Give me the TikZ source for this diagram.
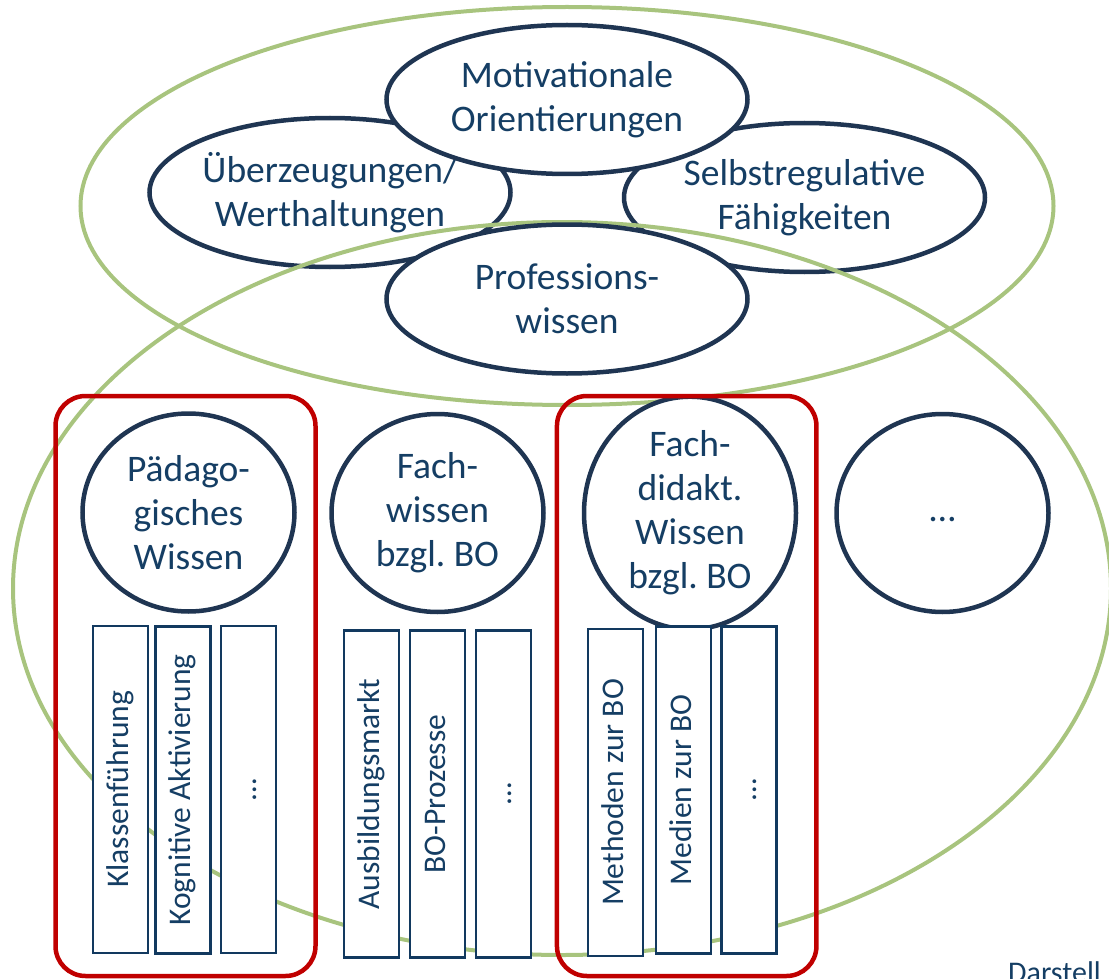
\documentclass[tikz,border=0pt]{standalone}
\usepackage{fontspec}
\setmainfont{Carlito}
\usetikzlibrary{shapes.geometric}
\definecolor{txtblue}{HTML}{153E64}
\definecolor{lineblue}{HTML}{1F3552}
\definecolor{boxblue}{HTML}{12395F}
\definecolor{leafgreen}{HTML}{A8C47E}
\definecolor{framered}{HTML}{C00000}
\frenchspacing
\tikzset{
  greenell/.style={ellipse, draw=leafgreen, line width=4pt, inner sep=0pt},
  topell/.style={ellipse, draw=lineblue, fill=white, line width=4.5pt, inner sep=0pt,
    minimum width=361pt, minimum height=149pt, text=txtblue, align=center,
    font=\fontsize{37.5}{44}\selectfont},
  knowcirc/.style={ellipse, draw=lineblue, fill=white, line width=4.5pt, inner sep=0pt,
    minimum width=212pt, minimum height=198pt, text=txtblue, align=center,
    font=\fontsize{37.5}{44}\selectfont},
  subbox/.style={rectangle, draw=boxblue, fill=white, line width=2.2pt, rotate=90,
    minimum width=327pt, minimum height=55pt, inner sep=0pt, text=txtblue,
    text height=22pt, text depth=7pt, font=\fontsize{31.5}{36}\selectfont},
  redframe/.style={rectangle, draw=framered, line width=4.5pt, rounded corners=30pt,
    inner sep=0pt}
}
\begin{document}
\begin{tikzpicture}[x=1pt,y=-1pt]
\useasboundingbox (0,0) rectangle (1109,979);
% outer green ellipse (top)
\node[greenell, minimum width=973pt, minimum height=398pt] (upper) at (567,206) {};
% top ellipses
\node[topell] (ueb) at (330,192.5) {Überzeugungen/\\Werthaltungen};
\node[topell] (selbst) at (804.5,197.5) {Selbstregulative\\Fähigkeiten};
\node[topell] (motiv) at (567,99.5) {Motivationale\\Orientierungen};
% large green ellipse
\node[greenell, minimum width=1098pt, minimum height=733pt] (lower) at (562,588.5) {};
\node[topell] (prof) at (567,299) {Professions-\\wissen};
% knowledge circles
\node[knowcirc] (paed) at (188.5,512.5) {Pädago-\\gisches\\Wissen};
\node[knowcirc] (fach) at (437.5,513) {Fach-\\wissen\\bzgl. BO};
\node[knowcirc] (fdid) at (690,513) {Fach-\\didakt.\\Wissen\\bzgl. BO};
\node[knowcirc, text height=26pt, text depth=9pt] (more) at (942.5,513) {…};
% sub boxes
\node[subbox] (k1) at (120.5,789.5) {Klassenführung};
\node[subbox] (k2) at (183,790) {Kognitive Aktivierung};
\node[subbox] (k3) at (248.5,789.5) {…};
\node[subbox] (f1) at (371.5,794) {Ausbildungsmarkt};
\node[subbox] (f2) at (437.5,794) {BO-Prozesse};
\node[subbox] (f3) at (503.5,794) {…};
\node[subbox] (d1) at (615.5,792.5) {Methoden zur BO};
\node[subbox] (d2) at (683.5,790) {Medien zur BO};
\node[subbox] (d3) at (749,790) {…};
% red frames
\node[redframe, minimum width=260pt, minimum height=580pt] (redL) at (185.5,686) {};
\node[redframe, minimum width=259.5pt, minimum height=580pt] (redR) at (686.7,686) {};
% source note (cut off at the page edge, as in the reference)
\node[anchor=base west, inner sep=0pt, text=txtblue, font=\fontsize{30}{36}\selectfont] (src) at (1008,982) {Darstell};
\end{tikzpicture}
\end{document}
